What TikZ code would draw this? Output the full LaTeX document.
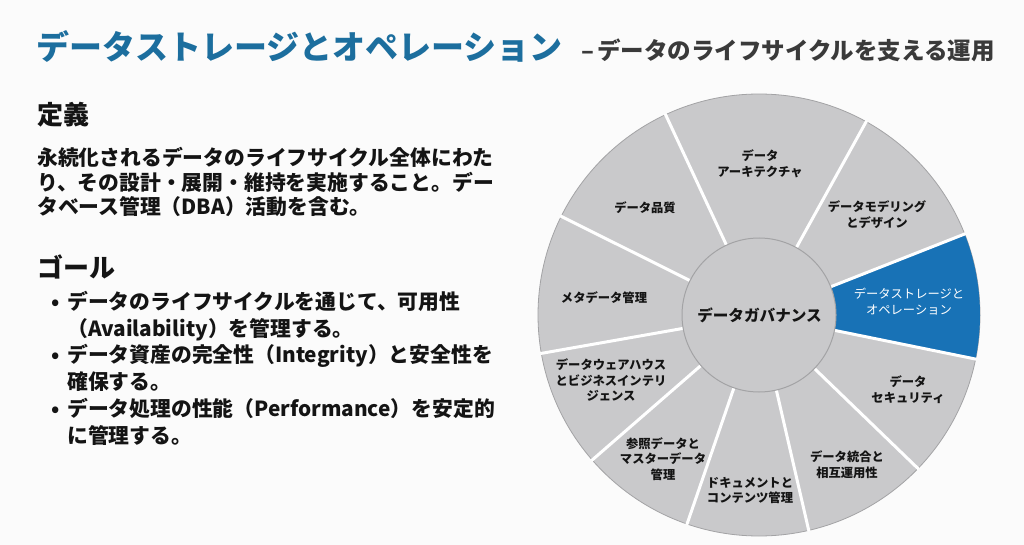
\documentclass[tikz,border=0pt]{standalone}
\usepackage{fontspec}
\setmainfont{Noto Sans CJK JP}
\usetikzlibrary{calc}
\definecolor{titleblue}{HTML}{1C6E9E}
\definecolor{subgray}{HTML}{3A3A3A}
\definecolor{ink}{HTML}{141414}
\definecolor{seggray}{HTML}{C9C9CB}
\definecolor{rimgray}{HTML}{A3A3A5}
\definecolor{segblue}{HTML}{1872B6}
\definecolor{bg}{HTML}{FBFBFB}
\begin{document}
\begin{tikzpicture}[x=1pt,y=-1pt,
  titletxt/.style={anchor=base west, inner sep=0pt, font=\bfseries\fontsize{33}{40}\selectfont, text=titleblue},
  subtxt/.style={anchor=base west, inner sep=0pt, font=\bfseries\fontsize{23.5}{28}\selectfont, text=subgray},
  headtxt/.style={anchor=base west, inner sep=0pt, font=\bfseries\fontsize{26}{30}\selectfont, text=ink},
  bodytxt/.style={anchor=base west, inner sep=0pt, font=\bfseries\fontsize{20.8}{25}\selectfont, text=ink},
  seglabel/.style={align=center, inner sep=0pt, font=\bfseries\fontsize{12.3}{15.8}\selectfont, text=ink},
  sepline/.style={draw=white, line width=3pt},
]
\useasboundingbox[fill=bg] (0,0) rectangle (1024,545);

% ---------- title ----------
\node[titletxt] (title) at (36,60) {データストレージとオペレーション};
\node[subtxt] (subtitle) at (581,60) {–\hspace{3pt}データのライフサイクルを支える運用};

% ---------- left text ----------
\node[headtxt] (defhead) at (37,125) {定義};
\node[bodytxt] (def1) at (37,166) {永続化されるデータのライフサイクル全体にわた};
\node[bodytxt] (def2) at (37,190.5) {り、その設計・展開・維持を実施すること。デー};
\node[bodytxt] (def3) at (37,214.5) {タベース管理（DBA）活動を含む。};

\node[headtxt] (goalhead) at (37,277) {ゴール};
\node[bodytxt] (b1dot) at (51,309.5) {•};
\node[bodytxt] (b1a) at (67,309.5) {データのライフサイクルを通じて、可用性};
\node[bodytxt] (b1b) at (67,336.2) {（Availability）を管理する。};
\node[bodytxt] (b2dot) at (51,362.9) {•};
\node[bodytxt] (b2a) at (67,362.9) {データ資産の完全性（Integrity）と安全性を};
\node[bodytxt] (b2b) at (67,389.6) {確保する。};
\node[bodytxt] (b3dot) at (51,416.3) {•};
\node[bodytxt] (b3a) at (67,416.3) {データ処理の性能（Performance）を安定的};
\node[bodytxt] (b3b) at (67,443) {に管理する。};

% ---------- wheel ----------
\coordinate (c) at (759,315);
\fill[seggray, draw=rimgray, line width=0.8pt] (c) circle[radius=221];
\fill[segblue] (c) -- ++(-21.5:221) arc[start angle=-21.5, end angle=11.5, radius=221] -- cycle;
\foreach \a in {-115,-61,-21.5,11.5,44,77,109,139,170,-153.5}
  \draw[sepline] ($(c)+(\a:70)$) -- ($(c)+(\a:222)$);
\draw[fill=seggray, draw=rimgray, line width=1pt] (c) circle[radius=77];

\node[seglabel, font=\bfseries\fontsize{15.6}{18}\selectfont] (gov) at (759.5,315) {データガバナンス};
\node[seglabel] (arch) at (760,163.5) {データ\\アーキテクチャ};
\node[seglabel] (quality) at (645,208) {データ品質};
\node[seglabel] (model) at (877,214.5) {データモデリング\\とデザイン};
\node[seglabel, font=\fontsize{12.3}{15.8}\selectfont, text=white] (storage) at (909,301.5) {データストレージと\\オペレーション};
\node[seglabel] (security) at (908,390) {データ\\セキュリティ};
\node[seglabel] (integ) at (847,465) {データ統合と\\相互運用性};
\node[seglabel] (doc) at (750,490.5) {ドキュメントと\\コンテンツ管理};
\node[seglabel] (master) at (663,459) {参照データと\\マスターデータ\\管理};
\node[seglabel] (dw) at (611,380) {データウェアハウス\\とビジネスインテリ\\ジェンス};
\node[seglabel] (meta) at (604,298) {メタデータ管理};
\end{tikzpicture}
\end{document}
